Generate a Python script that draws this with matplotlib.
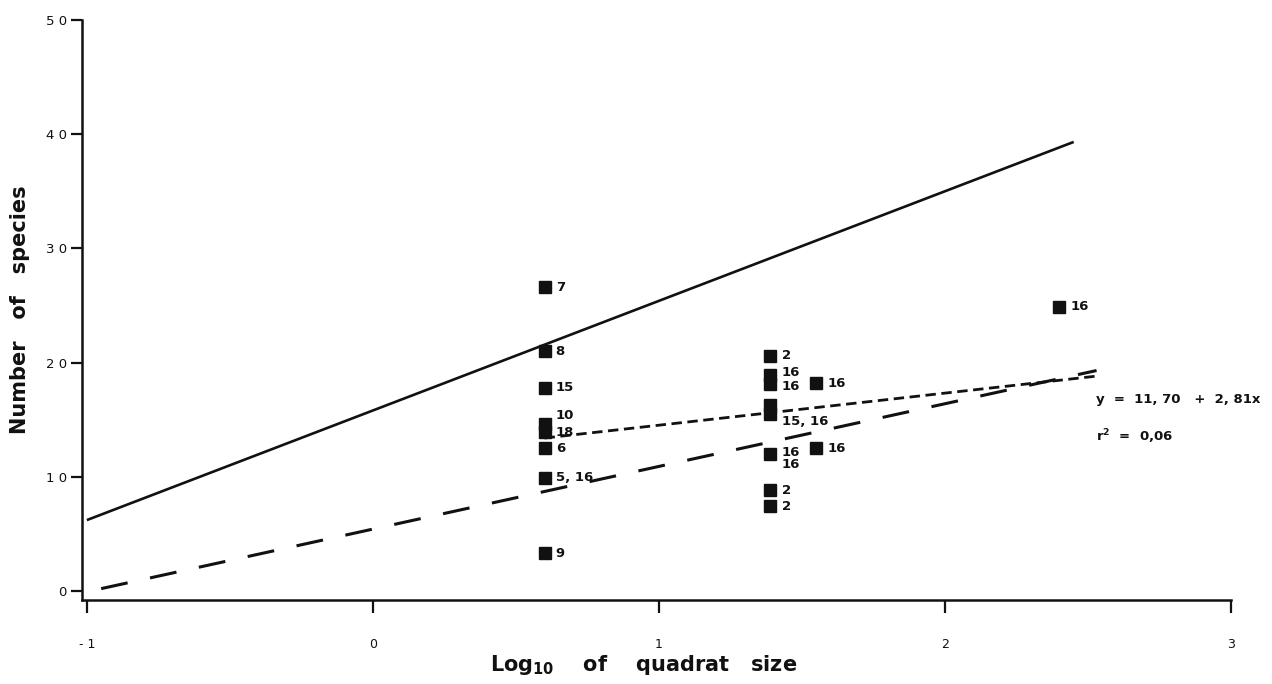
import matplotlib
matplotlib.use("Agg")
import matplotlib.pyplot as plt

plt.rcParams["font.family"] = ["DejaVu Sans"]
plt.rcParams["lines.scale_dashes"] = False

# Log10 of quadrat size and number of species per sample
log_size = [0.60, 0.60, 0.60, 0.60, 0.60, 0.60, 0.60, 0.60,
            1.39, 1.39, 1.39, 1.39, 1.39, 1.39, 1.39, 1.39,
            1.55, 1.55, 2.40]
species = [26.6, 21.0, 17.8, 14.6, 13.9, 12.5, 9.9, 3.3,
           20.6, 18.9, 18.1, 16.3, 15.5, 12.0, 8.8, 7.4,
           18.2, 12.5, 24.9]
site_labels = ["7", "8", "15", "10", "18", "6", "5, 16", "9",
               "2", "16", "16", "", "15, 16", "16\n16", "2", "2",
               "16", "16", "16"]

# Regression lines: intercept, slope, x-range
solid_fit = (15.8, 9.60, (-1.0, 2.45))
short_dash_fit = (11.70, 2.81, (0.60, 2.53))
long_dash_fit = (5.41, 5.49, (-0.95, 2.53))

x_ticks = [-1, 0, 1, 2, 3]
x_tick_labels = ["- 1", "0", "1", "2", "3"]
y_ticks = [0, 10, 20, 30, 40, 50]
y_tick_labels = ["0", "1 0", "2 0", "3 0", "4 0", "5 0"]

INK = "#111111"
W, H = 1272, 684
fig = plt.figure(figsize=(W / 100, H / 100), dpi=100)
ax = fig.add_axes([82 / W, 1 - 600 / H, (1231 - 82) / W, (600 - 20) / H])

ax.set_xlim(-1.017, 3.0)
ax.set_ylim(-0.8, 50.0)

for side in ("top", "right"):
    ax.spines[side].set_visible(False)
for side in ("left", "bottom"):
    ax.spines[side].set_linewidth(1.8)
    ax.spines[side].set_color(INK)


def fit_line(fit, **kw):
    a, b, (x0, x1) = fit
    ax.plot([x0, x1], [a + b * x0, a + b * x1], color=INK,
            solid_capstyle="butt", dash_capstyle="butt", **kw)


fit_line(solid_fit, lw=1.9)
fit_line(short_dash_fit, lw=2.0, dashes=(7.5, 4.0))
fit_line(long_dash_fit, lw=2.2, dashes=(19.5, 16.5))

ax.plot(log_size, species, linestyle="none", marker="s", markersize=9,
        color=INK, zorder=5)

# label placement tweaks (offset in points)
for i, (x, y, lab) in enumerate(zip(log_size, species, site_labels)):
    if not lab:
        continue
    dx, dy, va = 8, 0, "center"
    if lab == "10":
        dy = 6.5
    elif lab == "15, 16":
        dy, va = -1, "top"
    elif lab == "16\n16":
        dy, va = 6, "top"
    elif i == 9:
        dy = 1.5
    elif i == 10:
        dy = -1.5
    ax.annotate(lab, (x, y), xytext=(dx, dy), textcoords="offset points",
                ha="left", va=va, fontsize=9.5, fontweight="bold",
                color=INK, linespacing=0.9)

ax.set_xticks(x_ticks)
ax.set_xticklabels(x_tick_labels)
ax.set_yticks(y_ticks)
ax.set_yticklabels(y_tick_labels)
ax.tick_params(axis="x", direction="out", length=9, width=1.6, pad=18,
               labelsize=9, colors=INK)
ax.tick_params(axis="y", direction="out", length=8, width=1.6, pad=3,
               labelsize=9.5, colors=INK)

fig.text(1096 / W, 1 - 400 / H, "y  =  11, 70   +  2, 81x", fontsize=9.5,
         fontweight="bold", ha="left", va="center", color=INK)
fig.text(1096 / W, 1 - 437 / H, r"r$^\mathbf{2}$  =  0,06", fontsize=9.5,
         fontweight="bold", ha="left", va="center", color=INK)

fig.text(20 / W, 1 - 310 / H, "Number   of   species", rotation=90,
         fontsize=15, fontweight="bold", ha="center", va="center",
         color=INK)
fig.text(644 / W, 1 - 665 / H,
         r"Log$_{\mathbf{10}}$    of    quadrat   size",
         fontsize=15, fontweight="bold", ha="center", va="center",
         color=INK)

fig.savefig("out.png", dpi=100, facecolor="white")
